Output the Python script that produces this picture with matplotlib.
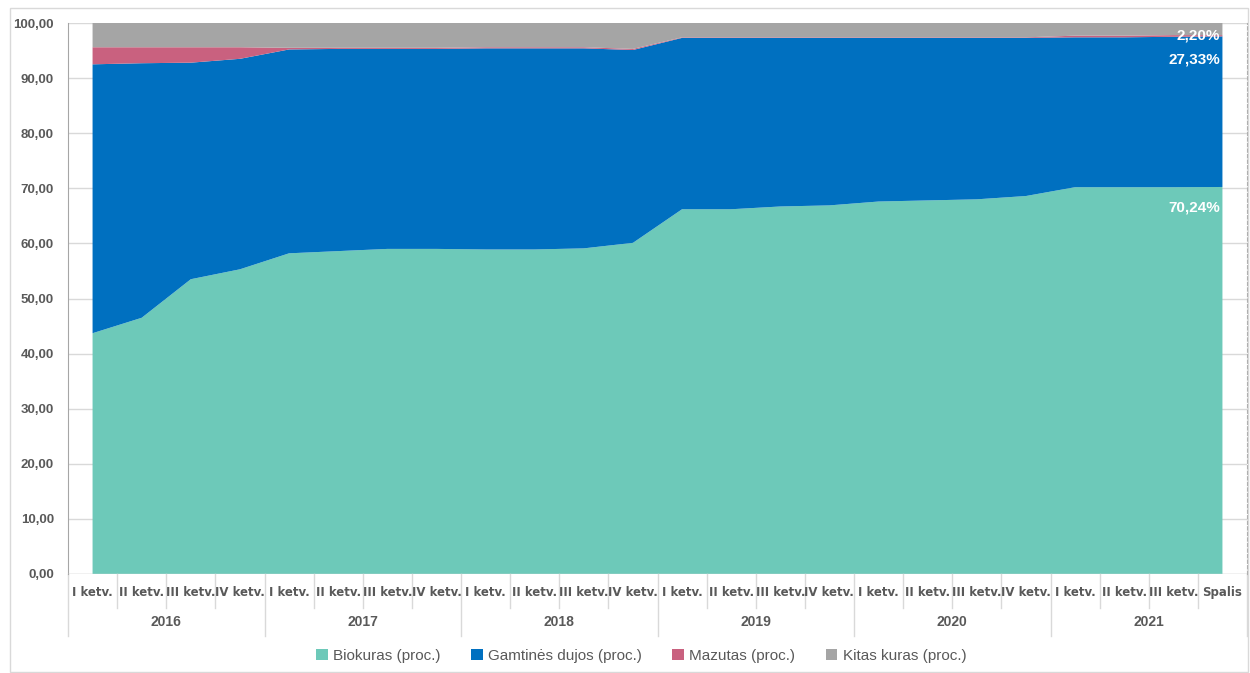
import numpy as np
import matplotlib
matplotlib.use('Agg')
import matplotlib.pyplot as plt
from matplotlib.patches import Rectangle
from matplotlib.ticker import FuncFormatter

# data (percent of fuel in heat production)
quarters = ['I ketv.', 'II ketv.', 'III ketv.', 'IV ketv.'] * 5 + \
           ['I ketv.', 'II ketv.', 'III ketv.', 'Spalis']
years = ['2016', '2017', '2018', '2019', '2020', '2021']

biokuras = [43.7, 46.5, 53.5, 55.3, 58.2, 58.6, 59.0, 59.0, 58.9, 58.9, 59.1, 60.1,
            66.2, 66.2, 66.7, 66.9, 67.6, 67.8, 68.0, 68.6, 70.2, 70.2, 70.2, 70.24]
dujos = [48.8, 46.2, 39.3, 38.2, 37.0, 36.7, 36.3, 36.3, 36.5, 36.5, 36.3, 35.0,
         31.1, 31.1, 30.6, 30.4, 29.7, 29.5, 29.3, 28.7, 27.2, 27.2, 27.3, 27.33]
mazutas = [3.1, 2.9, 2.8, 2.1, 0.3, 0.2, 0.2, 0.2, 0.2, 0.2, 0.2, 0.2,
           0.1, 0.1, 0.1, 0.1, 0.1, 0.1, 0.1, 0.1, 0.3, 0.3, 0.3, 0.23]
kitas = [4.4, 4.4, 4.4, 4.4, 4.5, 4.5, 4.5, 4.5, 4.4, 4.4, 4.4, 4.7,
         2.6, 2.6, 2.6, 2.6, 2.6, 2.6, 2.6, 2.6, 2.3, 2.3, 2.2, 2.20]

series_names = ['Biokuras (proc.)', 'Gamtinės dujos (proc.)', 'Mazutas (proc.)', 'Kitas kuras (proc.)']
colors = ['#6DC9B9', '#0070C0', '#C9617F', '#A5A5A5']
label_col = '#595959'
line_col = '#D9D9D9'

plt.rcParams['font.family'] = ['Liberation Sans', 'DejaVu Sans']

fig = plt.figure(figsize=(12.5, 6.73), dpi=100)
ax = fig.add_axes([68 / 1250, 1 - 574 / 673, (1247 - 68) / 1250, 551 / 673])

x = np.arange(len(quarters))
ax.stackplot(x, biokuras, dujos, mazutas, kitas, colors=colors, zorder=2,
             labels=series_names, linewidth=0)

ax.set_xlim(-0.5, len(quarters) - 0.5)
ax.set_ylim(0, 100)
ax.set_yticks(range(0, 101, 10))
ax.yaxis.set_major_formatter(FuncFormatter(lambda v, p: f'{v:.2f}'.replace('.', ',')))
ax.grid(axis='y', color=line_col, linewidth=1, zorder=0)
ax.tick_params(axis='y', length=0, pad=10, labelsize=9.5, labelcolor=label_col)
for t in ax.get_yticklabels():
    t.set_fontweight('bold')

for s in ['top', 'bottom']:
    ax.spines[s].set_visible(False)
ax.spines['left'].set_color('#A6A6A6')
ax.spines['right'].set_color('#A6A6A6')
ax.spines['right'].set_linestyle((0, (3, 2)))
ax.axhline(0, color=line_col, linewidth=1, zorder=3)

# two level category axis
ax.set_xticks([])
trans = ax.get_xaxis_transform()
for i, q in enumerate(quarters):
    ax.text(i, -0.034, q, transform=trans, ha='center', va='center', fontsize=8.5,
            fontweight='bold', color=label_col, family=['Liberation Sans Narrow', 'DejaVu Sans'])
for i in range(len(quarters) + 1):
    low = -0.113 if i % 4 == 0 else -0.062
    ax.plot([i - 0.5, i - 0.5], [0, low], transform=trans, color=line_col,
            linewidth=1, clip_on=False)
for j, y in enumerate(years):
    ax.text(j * 4 + 1.5, -0.087, y, transform=trans, ha='center', va='center',
            fontsize=10, fontweight='bold', color=label_col)

# value labels for last point
last = len(quarters) - 1
ax.text(last - 0.05, 97.8, '2,20%', ha='right', va='center', color='white',
        fontsize=11, fontweight='bold', zorder=5)
ax.text(last - 0.05, 93.3, '27,33%', ha='right', va='center', color='white',
        fontsize=11, fontweight='bold', zorder=5)
ax.text(last - 0.05, 66.6, '70,24%', ha='right', va='center', color='white',
        fontsize=11, fontweight='bold', zorder=5)

fig.legend(loc='center', bbox_to_anchor=(0.513, 0.026), ncol=4, frameon=False,
           handlelength=0.75, handleheight=0.75, handletextpad=0.35, columnspacing=2.0,
           fontsize=11, labelcolor=label_col)

# outer chart frame
fig.patches.append(Rectangle((10 / 1250, 0.002), 1238 / 1250, 1 - 8 / 673 - 0.002,
                             transform=fig.transFigure, fill=False,
                             edgecolor='#D9D9D9', linewidth=1))

fig.savefig('out.png', dpi=100)
